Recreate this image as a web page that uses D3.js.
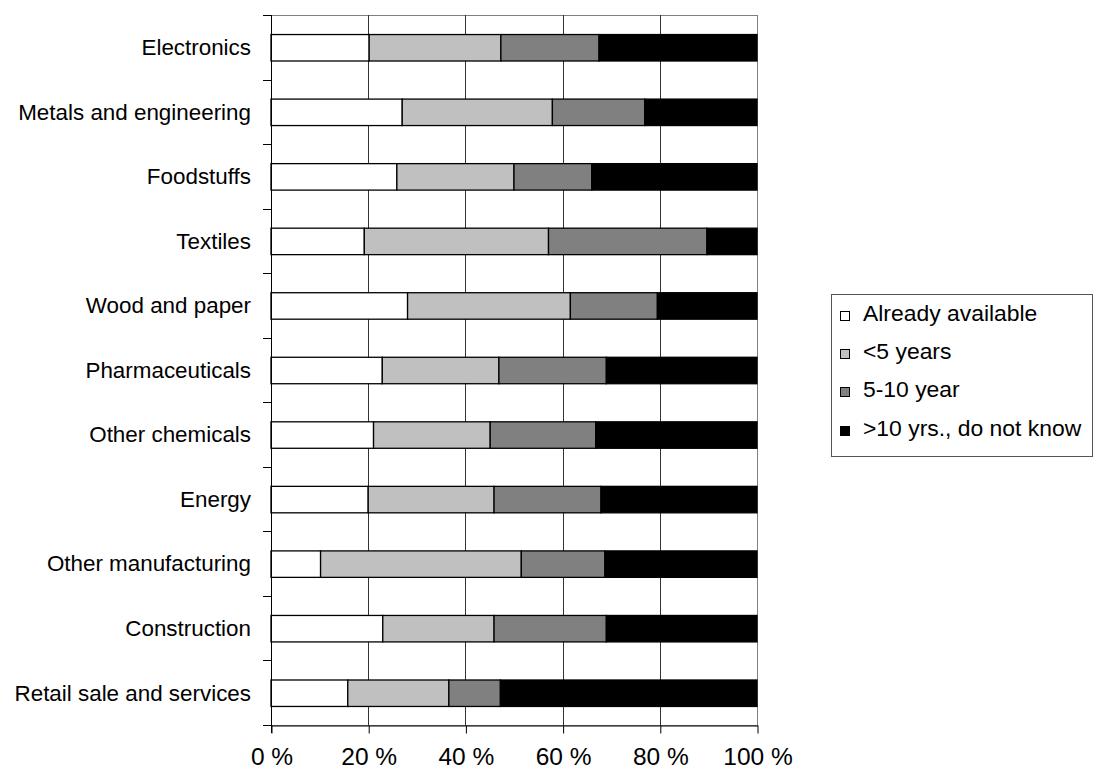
<!DOCTYPE html>
<html>
<head>
<meta charset="utf-8">
<script src="https://cdn.jsdelivr.net/npm/d3@7"></script>
<style>
  html, body { margin: 0; padding: 0; background: #fff; }
  svg { display: block; font-family: "Liberation Sans", Arial, sans-serif; }
</style>
</head>
<body>
<svg id="chart" width="1094" height="771"></svg>
<script>
const categories = ["Electronics", "Metals and engineering", "Foodstuffs", "Textiles",
  "Wood and paper", "Pharmaceuticals", "Other chemicals", "Energy",
  "Other manufacturing", "Construction", "Retail sale and services"];
const seriesNames = ["Already available", "<5 years", "5-10 year", ">10 yrs., do not know"];
const alreadyAvailable = [20.2, 27.0, 25.9, 19.2, 28.1, 22.9, 21.1, 20.0, 10.2, 23.0, 15.8];
const under5Years     = [27.1, 30.9, 24.1, 37.9, 33.5, 24.0, 24.0, 25.9, 41.3, 22.9, 20.8];
const fiveTo10Years   = [20.2, 19.0, 16.0, 32.6, 17.9, 22.1, 21.7, 22.0, 17.2, 23.1, 10.6];
const over10Years     = [32.5, 23.1, 34.0, 10.3, 20.5, 31.0, 33.2, 32.1, 31.3, 31.0, 52.8];
const xTicks = [0, 20, 40, 60, 80, 100];
const xTickLabels = ["0 %", "20 %", "40 %", "60 %", "80 %", "100 %"];
const colors = ["#ffffff", "#c0c0c0", "#808080", "#000000"];

(function () {
const seriesArrays = [alreadyAvailable, under5Years, fiveTo10Years, over10Years];
const rows = categories.map((c, i) => {
  const r = { category: c };
  seriesNames.forEach((s, j) => r[s] = seriesArrays[j][i]);
  return r;
});
const stacked = d3.stack().keys(seriesNames)(rows);

const svg = d3.select("#chart");
const pLeft = 271, pRight = 757, pTop = 15, pBottom = 725;

const x = d3.scaleLinear().domain([0, 100]).range([pLeft, pRight]);
const y = d3.scaleBand().domain(categories).range([pTop, pBottom]).padding(0);
const barH = y.bandwidth() * 0.41;

// plot area border (top + right)
svg.append("rect")
  .attr("x", pLeft + 0.5).attr("y", pTop + 0.5)
  .attr("width", pRight - pLeft).attr("height", pBottom - pTop)
  .attr("fill", "none").attr("stroke", "#808080").attr("stroke-width", 1);

// gridlines
svg.append("g").selectAll("line")
  .data(xTicks.filter(t => t > 0 && t < 100))
  .join("line")
  .attr("x1", d => Math.round(x(d)) + 0.5).attr("x2", d => Math.round(x(d)) + 0.5)
  .attr("y1", pTop).attr("y2", pBottom)
  .attr("stroke", "#333").attr("stroke-width", 1);

// bars
svg.append("g").selectAll("g")
  .data(stacked)
  .join("g")
  .attr("fill", (d, i) => colors[i])
  .selectAll("rect")
  .data(d => d)
  .join("rect")
  .attr("x", d => x(d[0]))
  .attr("width", d => x(d[1]) - x(d[0]))
  .attr("y", d => y(d.data.category) + (y.bandwidth() - barH) / 2 + 0.5)
  .attr("height", barH)
  .attr("stroke", "#000")
  .attr("stroke-width", 1.3);

// y axis
const yTickPos = d3.range(categories.length + 1).map(i => pTop + i * y.step());
const yAxisG = svg.append("g");
yAxisG.append("line")
  .attr("x1", pLeft + 0.5).attr("x2", pLeft + 0.5)
  .attr("y1", pTop).attr("y2", pBottom + 8)
  .attr("stroke", "#000");
yAxisG.selectAll("line.tick")
  .data(yTickPos)
  .join("line").attr("class", "tick")
  .attr("x1", pLeft - 8).attr("x2", pLeft)
  .attr("y1", d => Math.round(d) + 0.5).attr("y2", d => Math.round(d) + 0.5)
  .attr("stroke", "#000");
yAxisG.selectAll("text")
  .data(categories)
  .join("text")
  .attr("x", 251)
  .attr("y", d => y(d) + y.bandwidth() / 2)
  .attr("dy", "0.35em")
  .attr("text-anchor", "end")
  .attr("font-size", "22.4px")
  .attr("fill", "#000")
  .text(d => d);

// x axis
const xAxis = d3.axisBottom(x)
  .tickValues(xTicks)
  .tickFormat((d, i) => xTickLabels[i])
  .tickSize(8)
  .tickSizeOuter(0);
const xg = svg.append("g")
  .attr("transform", `translate(0.5,${pBottom + 0.5})`)
  .call(xAxis);
xg.select(".domain").attr("stroke", "#000");
xg.selectAll(".tick line").attr("stroke", "#000");
xg.selectAll(".tick text")
  .attr("font-family", "Liberation Sans, Arial, sans-serif")
  .attr("font-size", "24.5px")
  .attr("fill", "#000")
  .attr("y", 39)
  .attr("dy", "0");

// legend
const legendG = svg.append("g");
legendG.append("rect")
  .attr("x", 831.5).attr("y", 294.5)
  .attr("width", 261).attr("height", 162)
  .attr("fill", "#fff").attr("stroke", "#555").attr("stroke-width", 1);
const legendBaseline = d3.scalePoint().domain(seriesNames).range([320.7, 435.6]);
const items = legendG.selectAll("g.item")
  .data(seriesNames)
  .join("g").attr("class", "item");
items.append("rect")
  .attr("x", 840.5)
  .attr("y", d => Math.round(legendBaseline(d) - 10) + 0.5)
  .attr("width", 9).attr("height", 9)
  .attr("fill", (d, i) => colors[i])
  .attr("stroke", "#000").attr("stroke-width", 1);
items.append("text")
  .attr("x", 863)
  .attr("y", d => legendBaseline(d))
  .attr("font-size", "22.9px")
  .attr("fill", "#000")
  .text(d => d);
})();
</script>
</body>
</html>
